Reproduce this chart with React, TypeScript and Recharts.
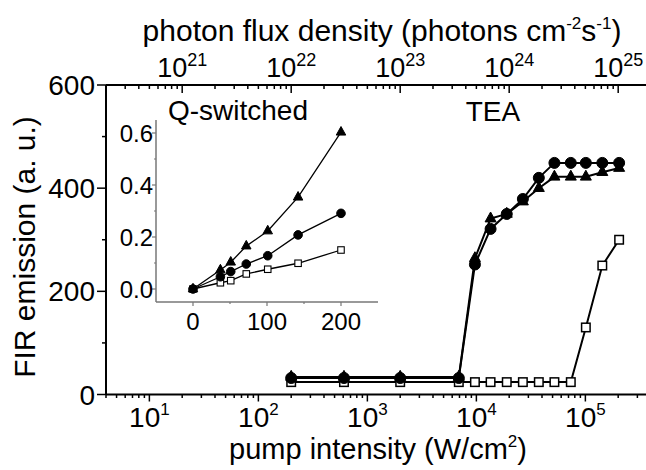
import React from 'react';
import { ComposedChart, Line, XAxis, YAxis } from 'recharts';

const FONT = '"Liberation Sans", Arial, Helvetica, sans-serif';

// TEA laser pumping (main panel), pump intensity in W/cm^2
const pumpLevels = [200, 610, 2000, 6900, 9700, 13500, 19000, 26700, 37400, 52000, 73500, 101000, 143000, 204000];
const firCircle = [32, 32, 32, 32, 252, 321, 350, 379, 420, 449, 449, 449, 449, 449];
const firTriangle = [34, 34, 34, 34, 264, 341, 350, 374, 400, 422, 422, 422, 431, 439];
const firSquare = [24, 24, 24, 24, 24, 24, 24, 24, 24, 24, 24, 130, 250, 300];

// Q-switched pumping (inset)
const qPump = [0, 37, 51, 72, 101, 142, 200];
const qTriangle = [0, 0.073, 0.103, 0.165, 0.223, 0.353, 0.603];
const qCircle = [0, 0.047, 0.067, 0.096, 0.128, 0.208, 0.291];
const qSquare = [0, 0.024, 0.032, 0.058, 0.076, 0.099, 0.15];

// axis labels
const pumpExponents = [1, 2, 3, 4, 5];
const fluxExponents = [21, 22, 23, 24, 25];
const photonsPerWatt = 5e19; // photons cm^-2 s^-1 per W cm^-2
const firTicks = [0, 100, 200, 300, 400, 500, 600];
const qPumpTicks = [0, 50, 100, 150, 200];
const qFirTicks = [0, 0.1, 0.2, 0.3, 0.4, 0.5, 0.6];

const toPoints = (xs: number[], ys: number[]) => xs.map((x, i) => ({ x, y: ys[i] }));

const circleData = toPoints(pumpLevels, firCircle);
const triangleData = toPoints(pumpLevels, firTriangle);
const squareData = toPoints(pumpLevels, firSquare);
const qCircleData = toPoints(qPump, qCircle);
const qTriangleData = toPoints(qPump, qTriangle);
const qSquareData = toPoints(qPump, qSquare);

const logTicks = (lo: number, hi: number) => {
  const out: number[] = [];
  for (let e = -2; e <= 30; e++) {
    for (let m = 1; m <= 9; m++) {
      const v = m * Math.pow(10, e);
      if (v >= lo * 0.999 && v <= hi * 1.001) out.push(v);
    }
  }
  return out;
};

const bottomTicks = logTicks(4, 4e5);
const topTicks = logTicks(4 * photonsPerWatt, 4e5 * photonsPerWatt).map((f) => f / photonsPerWatt);

const isDecade = (v: number) => {
  const l = Math.log10(v);
  return Math.abs(l - Math.round(l)) < 1e-6;
};

const PowerLabel = ({ x, y, exp, size, supSize }: any) => (
  <text x={x} y={y} textAnchor="middle" fontFamily={FONT} fontSize={size} fill="#000">
    <tspan>10</tspan>
    <tspan dy={-size * 0.42} fontSize={supSize}>{exp}</tspan>
  </text>
);

const BottomTick = (props: any) => {
  const { x, y, payload } = props;
  const major = isDecade(payload.value);
  const exp = Math.round(Math.log10(payload.value));
  return (
    <g>
      <line x1={x} x2={x} y1={y} y2={y + (major ? 7 : 3.5)} stroke="#000" strokeWidth={1.5} />
      {major && pumpExponents.includes(exp) && (
        <PowerLabel x={x} y={y + 32} exp={exp} size={28} supSize={17} />
      )}
    </g>
  );
};

const TopTick = (props: any) => {
  const { x, y, payload } = props;
  const flux = payload.value * photonsPerWatt;
  const major = isDecade(flux);
  const exp = Math.round(Math.log10(flux));
  return (
    <g>
      <line x1={x} x2={x} y1={y} y2={y + (major ? 8 : 4)} stroke="#000" strokeWidth={1.5} />
      {major && fluxExponents.includes(exp) && (
        <PowerLabel x={x} y={y - 8} exp={exp} size={27} supSize={18} />
      )}
    </g>
  );
};

const LeftTick = (props: any) => {
  const { x, y, payload } = props;
  const major = payload.value % 200 === 0;
  return (
    <g>
      <line x1={x - (major ? 9 : 4)} x2={x} y1={y} y2={y} stroke="#000" strokeWidth={1.5} />
      {major && (
        <text x={x - 11} y={y + 10} textAnchor="end" fontFamily={FONT} fontSize={28} fill="#000">
          {payload.value}
        </text>
      )}
    </g>
  );
};

const InsetBottomTick = (props: any) => {
  const { x, y, payload } = props;
  const major = payload.value % 100 === 0;
  return (
    <g>
      <line x1={x} x2={x} y1={y} y2={y + (major ? 4 : 2)} stroke="#777" strokeWidth={1.2} />
      {major && (
        <text x={x} y={y + 28} textAnchor="middle" fontFamily={FONT} fontSize={24} fill="#000">
          {payload.value}
        </text>
      )}
    </g>
  );
};

const InsetLeftTick = (props: any) => {
  const { x, y, payload } = props;
  const major = Math.round(payload.value * 10) % 2 === 0;
  return (
    <g>
      <line x1={x - (major ? 4 : 2)} x2={x} y1={y} y2={y} stroke="#777" strokeWidth={1.2} />
      {major && (
        <text x={x - 3} y={y + 8.5} textAnchor="end" fontFamily={FONT} fontSize={24} fill="#000">
          {payload.value.toFixed(1)}
        </text>
      )}
    </g>
  );
};

const makeCircle = (r: number) => (p: any) => (
  <circle key={`c${p.index}`} cx={p.cx} cy={p.cy} r={r} fill="#000" stroke="#000" />
);
const makeTriangle = (w: number) => (p: any) => {
  const h = w * 0.9;
  const pts = `${p.cx},${p.cy - (h * 2) / 3} ${p.cx - w / 2},${p.cy + h / 3} ${p.cx + w / 2},${p.cy + h / 3}`;
  return <polygon key={`t${p.index}`} points={pts} fill="#000" stroke="#000" strokeWidth={1} />;
};
const makeSquare = (s: number, sw: number) => (p: any) => (
  <rect key={`s${p.index}`} x={p.cx - s / 2} y={p.cy - s / 2} width={s} height={s} fill="#fff" stroke="#000" strokeWidth={sw} />
);

export default function App() {
  return (
    <div style={{ position: 'absolute', left: 0, top: 0, width: 646, height: 470, overflow: 'hidden', background: '#fff' }}>
      <ComposedChart width={651} height={470} margin={{ top: 0, right: 0, bottom: 0, left: 0 }}>
        <XAxis
          xAxisId="bottom"
          dataKey="x"
          type="number"
          scale="log"
          domain={[4, 4e5]}
          allowDataOverflow
          ticks={bottomTicks}
          interval={0}
          tick={BottomTick}
          tickLine={false}
          tickSize={0}
          tickMargin={0}
          height={75.5}
          axisLine={{ stroke: '#000', strokeWidth: 2 }}
        />
        <XAxis
          xAxisId="top"
          orientation="top"
          dataKey="x"
          type="number"
          scale="log"
          domain={[4, 4e5]}
          allowDataOverflow
          ticks={topTicks}
          interval={0}
          tick={TopTick}
          tickLine={false}
          tickSize={0}
          tickMargin={0}
          height={85}
          axisLine={{ stroke: '#000', strokeWidth: 2 }}
        />
        <YAxis
          type="number"
          domain={[0, 600]}
          allowDataOverflow
          ticks={firTicks}
          interval={0}
          tick={LeftTick}
          tickLine={false}
          tickSize={0}
          tickMargin={0}
          width={106}
          axisLine={{ stroke: '#000', strokeWidth: 2 }}
        />
        <Line xAxisId="top" data={squareData} dataKey="y" stroke="none" dot={false} activeDot={false} isAnimationActive={false} />
        <Line xAxisId="bottom" data={squareData} dataKey="y" stroke="#000" strokeWidth={2} dot={makeSquare(8.5, 1.5)} activeDot={false} isAnimationActive={false} />
        <Line xAxisId="bottom" data={triangleData} dataKey="y" stroke="#000" strokeWidth={2} dot={makeTriangle(11)} activeDot={false} isAnimationActive={false} />
        <Line xAxisId="bottom" data={circleData} dataKey="y" stroke="#000" strokeWidth={2} dot={makeCircle(5.5)} activeDot={false} isAnimationActive={false} />
      </ComposedChart>

      <div style={{ position: 'absolute', left: 100, top: 110 }}>
        <ComposedChart width={278} height={232} margin={{ top: 10, right: 0, bottom: 0, left: 0 }}>
          <XAxis
            dataKey="x"
            type="number"
            domain={[-50, 250]}
            allowDataOverflow
            ticks={qPumpTicks}
            interval={0}
            tick={InsetBottomTick}
            tickLine={false}
            tickSize={0}
            tickMargin={0}
            height={40}
            axisLine={{ stroke: '#777', strokeWidth: 1.5 }}
          />
          <YAxis
            type="number"
            domain={[-0.05, 0.65]}
            allowDataOverflow
            ticks={qFirTicks}
            interval={0}
            tick={InsetLeftTick}
            tickLine={false}
            tickSize={0}
            tickMargin={0}
            width={56}
            axisLine={{ stroke: '#777', strokeWidth: 1.5 }}
          />
          <Line data={qSquareData} dataKey="y" stroke="#000" strokeWidth={1.3} dot={makeSquare(6.5, 1.1)} activeDot={false} isAnimationActive={false} />
          <Line data={qCircleData} dataKey="y" stroke="#000" strokeWidth={1.3} dot={makeCircle(4.3)} activeDot={false} isAnimationActive={false} />
          <Line data={qTriangleData} dataKey="y" stroke="#000" strokeWidth={1.3} dot={makeTriangle(9.5)} activeDot={false} isAnimationActive={false} />
        </ComposedChart>
      </div>

      <svg width={646} height={470} style={{ position: 'absolute', left: 0, top: 0, pointerEvents: 'none' }}>
        <g fontFamily={FONT} fill="#000">
          <text x={382} y={41} textAnchor="middle" fontSize={30}>
            photon flux density (photons cm
            <tspan dy={-12} fontSize={17}>-2</tspan>
            <tspan dy={12}>s</tspan>
            <tspan dy={-12} fontSize={17}>-1</tspan>
            <tspan dy={12}>)</tspan>
          </text>
          <text x={378} y={459} textAnchor="middle" fontSize={29}>
            pump intensity (W/cm
            <tspan dy={-12} fontSize={17}>2</tspan>
            <tspan dy={12}>)</tspan>
          </text>
          <text x={35} y={247} textAnchor="middle" fontSize={30} transform="rotate(-90 35 247)">
            FIR emission (a. u.)
          </text>
          <text x={238} y={120} textAnchor="middle" fontSize={28}>Q-switched</text>
          <text x={493} y={121} textAnchor="middle" fontSize={28}>TEA</text>
        </g>
      </svg>
    </div>
  );
}
